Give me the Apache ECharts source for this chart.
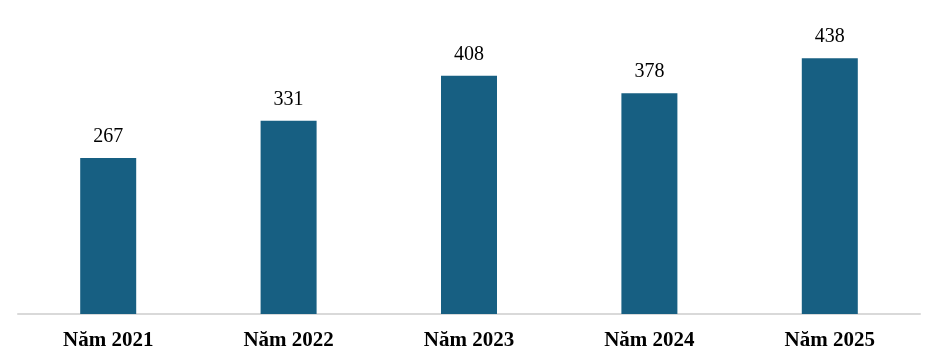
<!DOCTYPE html>
<html><head><meta charset="utf-8">
<script src="https://cdn.jsdelivr.net/npm/echarts@6/dist/echarts.min.js"></script>
<style>html,body{margin:0;padding:0;background:#fff}#c{width:932px;height:359px}</style>
</head><body><div id="c"></div>
<script>
const categories = ["Năm 2021","Năm 2022","Năm 2023","Năm 2024","Năm 2025"];
const values = [267, 331, 408, 378, 438];
const chart = echarts.init(document.getElementById('c'));
chart.setOption({
  animation: false,
  grid: {left: 18, right: 12, top: 22, bottom: 45},
  xAxis: {
    type: 'category', data: categories,
    axisLine: {lineStyle: {color: '#d9d9d9', width: 2}},
    axisTick: {show: false},
    axisLabel: {color: '#000', fontFamily: 'Liberation Serif', fontWeight: 'bold', fontSize: 21, margin: 16}
  },
  yAxis: {type: 'value', min: 0, max: 500, show: false, splitLine: {show: false}},
  series: [{
    type: 'bar', data: values, barWidth: 56,
    itemStyle: {color: '#175f82'},
    label: {show: true, position: 'top', distance: 11, color: '#000', fontFamily: 'Liberation Serif', fontSize: 20}
  }]
});
</script></body></html>
